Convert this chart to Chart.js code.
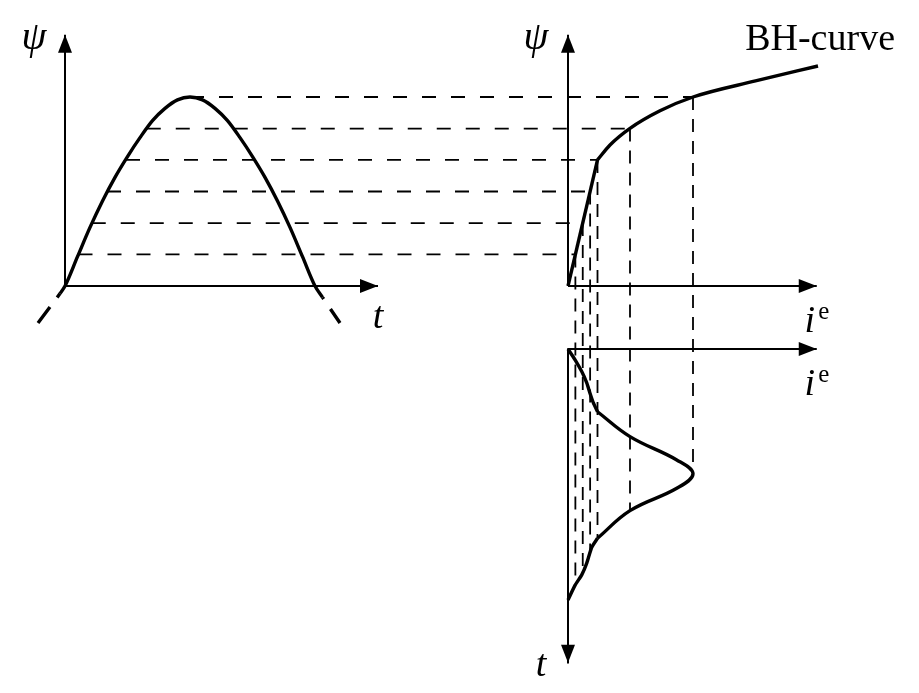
<!DOCTYPE html>
<html>
<head>
<meta charset="utf-8">
<script src="https://cdn.jsdelivr.net/npm/chart.js@4/dist/chart.umd.min.js"></script>
<style>
  html, body { margin: 0; padding: 0; background: #fff; }
  #wrap { width: 919px; height: 693px; position: relative; }
</style>
</head>
<body>
<div id="wrap"><canvas id="fig"></canvas></div>
<script>
// flux linkage over half a period (psi normalised to its peak, t to the half period)
const fluxTime = [-0.02, 0, 0.05, 0.1, 0.15, 0.2, 0.25, 0.3, 0.35, 0.4, 0.45, 0.5, 0.55, 0.6, 0.65, 0.7, 0.75, 0.8, 0.85, 0.9, 0.95, 1.0, 1.03];
const fluxPsi  = [-0.04, 0, 0.155, 0.31, 0.45, 0.575, 0.685, 0.785, 0.875, 0.94, 0.985, 1.0, 0.985, 0.94, 0.875, 0.785, 0.685, 0.575, 0.45, 0.31, 0.155, 0, -0.06];
// dashed continuation of the wave outside the half period
const fluxExtLeftT = [-0.108, -0.02];
const fluxExtLeftPsi = [-0.196, -0.04];
const fluxExtRightT = [1.1, 1.03];
const fluxExtRightPsi = [-0.196, -0.06];

// BH curve: linear part up to the knee, then saturation
const bhLinI = [0, 0.236];
const bhLinPsi = [0, 0.667];
const bhSatI = [0.236, 0.336, 0.496, 0.736, 1.0, 1.5, 2.0];
const bhSatPsi = [0.667, 0.746, 0.834, 0.927, 1.0, 1.085, 1.164];

// magnetising current over the same half period (t downwards)
const currRiseT = [0, 0.044, 0.09, 0.135, 0.176, 0.215, 0.25];
const currRiseI = [0, 0.058, 0.11, 0.15, 0.176, 0.203, 0.236];
const currPeakT = [0.25, 0.349, 0.442, 0.497, 0.555, 0.644, 0.754];
const currPeakI = [0.236, 0.496, 0.87, 1.0, 0.87, 0.496, 0.236];
const currFallT = [0.754, 0.79, 0.853, 0.9, 0.94, 1.0];
const currFallI = [0.236, 0.19, 0.15, 0.11, 0.058, 0];

// construction levels (dashed lines)
const psiLevels = [0.167, 0.333, 0.5, 0.667, 0.833, 1.0];
const levelTimes = [0.054, 0.107, 0.168, 0.244, 0.327, 0.5];
const levelCurrents = [0.059, 0.118, 0.177, 0.236, 0.496, 1.0];
const levelFallTimes = [0.94, 0.892, 0.81, 0.754, 0.644, 0.497];

// axis lengths in data units
const psiAxisLen = 1.33, tAxisLen = 1.252, iAxisLen = 1.99, tLowAxisLen = 1.25;

// layout of the three panels on the canvas
const W = 919, H = 693;
const leftX0 = 65, psiY0 = 286, tUnit = 250, psiUnit = 189;
const rightX0 = 568, iUnit = 125;
const lowY0 = 349, tLowUnit = 251;

const pts = (xs, ys) => xs.map((x, k) => ({ x: x, y: ys[k] }));
const line = (data, xId, yId, extra) => Object.assign({
  data: data, xAxisID: xId, yAxisID: yId, showLine: true,
  borderColor: '#000', borderWidth: 3.4, pointRadius: 0, tension: 0,
  borderCapStyle: 'butt', borderJoinStyle: 'round'
}, extra || {});

const datasets = [
  // axes
  line([{x: 0, y: 0}, {x: 0, y: psiAxisLen}], 'xT', 'yPsi', {borderWidth: 2}),
  line([{x: 0, y: 0}, {x: tAxisLen, y: 0}], 'xT', 'yPsi', {borderWidth: 2}),
  line([{x: 0, y: 0}, {x: 0, y: psiAxisLen}], 'xI', 'yPsi', {borderWidth: 2}),
  line([{x: 0, y: 0}, {x: iAxisLen, y: 0}], 'xI', 'yPsi', {borderWidth: 2}),
  line([{x: 0, y: 0}, {x: iAxisLen, y: 0}], 'xI', 'yT', {borderWidth: 2}),
  line([{x: 0, y: 0}, {x: 0, y: tLowAxisLen}], 'xI', 'yT', {borderWidth: 2}),
  // flux wave
  line(pts(fluxTime, fluxPsi), 'xT', 'yPsi', {cubicInterpolationMode: 'monotone'}),
  line(pts(fluxExtLeftT, fluxExtLeftPsi), 'xT', 'yPsi', {borderDash: [20, 12]}),
  line(pts(fluxExtRightT, fluxExtRightPsi), 'xT', 'yPsi', {borderDash: [17, 12]}),
  // BH curve
  line(pts(bhLinI, bhLinPsi), 'xI', 'yPsi'),
  line(pts(bhSatI, bhSatPsi), 'xI', 'yPsi', {cubicInterpolationMode: 'monotone'}),
  // current
  line(pts(currRiseI, currRiseT), 'xI', 'yT', {tension: 0.2}),
  line(pts(currPeakI, currPeakT), 'xI', 'yT', {tension: 0.4}),
  line(pts(currFallI, currFallT), 'xI', 'yT', {tension: 0.2})
];

function arrowHead(ctx, x, y, dx, dy) {
  const L = 18, hw = 7;
  ctx.beginPath();
  ctx.moveTo(x, y);
  ctx.lineTo(x - dx * L - dy * hw, y - dy * L + dx * hw);
  ctx.lineTo(x - dx * L + dy * hw, y - dy * L - dx * hw);
  ctx.closePath();
  ctx.fill();
}

const construction = {
  id: 'construction',
  beforeDatasetsDraw(chart) {
    const { ctx, scales } = chart;
    ctx.save();
    ctx.strokeStyle = '#000';
    ctx.lineWidth = 1.8;
    psiLevels.forEach((psi, k) => {
      const y = scales.yPsi.getPixelForValue(psi);
      const x = scales.xI.getPixelForValue(levelCurrents[k]);
      ctx.setLineDash([14, 15]);
      ctx.beginPath();
      ctx.moveTo(scales.xT.getPixelForValue(levelTimes[k]), y);
      ctx.lineTo(x, y);
      ctx.stroke();
      ctx.setLineDash([13, 9]);
      ctx.beginPath();
      ctx.moveTo(x, y);
      ctx.lineTo(x, scales.yT.getPixelForValue(levelFallTimes[k]));
      ctx.stroke();
    });
    ctx.restore();
  },
  afterDatasetsDraw(chart) {
    const { ctx, scales } = chart;
    const { xT, yPsi, xI, yT } = scales;
    ctx.save();
    ctx.fillStyle = '#000';
    arrowHead(ctx, xT.getPixelForValue(0), yPsi.getPixelForValue(psiAxisLen), 0, -1);
    arrowHead(ctx, xT.getPixelForValue(tAxisLen), yPsi.getPixelForValue(0), 1, 0);
    arrowHead(ctx, xI.getPixelForValue(0), yPsi.getPixelForValue(psiAxisLen), 0, -1);
    arrowHead(ctx, xI.getPixelForValue(iAxisLen), yPsi.getPixelForValue(0), 1, 0);
    arrowHead(ctx, xI.getPixelForValue(iAxisLen), yT.getPixelForValue(0), 1, 0);
    arrowHead(ctx, xI.getPixelForValue(0), yT.getPixelForValue(tLowAxisLen), 0, 1);

    // labels
    const math = 'italic 38px "Liberation Serif", "DejaVu Serif", serif';
    ctx.textAlign = 'center';
    ctx.textBaseline = 'middle';
    ctx.font = 'italic 40px "Liberation Serif", "DejaVu Serif", serif';
    ctx.fillText('ψ', xT.getPixelForValue(0) - 31, yPsi.getPixelForValue(psiAxisLen) + 4);
    ctx.fillText('ψ', xI.getPixelForValue(0) - 32, yPsi.getPixelForValue(psiAxisLen) + 4);
    ctx.font = math;
    ctx.fillText('t', xT.getPixelForValue(tAxisLen), yPsi.getPixelForValue(0) + 32);
    ctx.fillText('t', xI.getPixelForValue(0) - 27, yT.getPixelForValue(tLowAxisLen) + 3);
    [yPsi.getPixelForValue(0), yT.getPixelForValue(0)].forEach(y0 => {
      const xe = xI.getPixelForValue(iAxisLen);
      ctx.font = math;
      ctx.fillText('i', xe - 7, y0 + 36);
      ctx.font = '25px "Liberation Serif", "DejaVu Serif", serif';
      ctx.fillText('e', xe + 7, y0 + 26);
    });
    ctx.font = '38px "Liberation Serif", "DejaVu Serif", serif';
    ctx.textAlign = 'right';
    ctx.textBaseline = 'alphabetic';
    ctx.fillText('BH-curve', 895, 50);
    ctx.restore();
  }
};

new Chart(document.getElementById('fig'), {
  type: 'scatter',
  data: { datasets: datasets },
  options: {
    responsive: true,
    maintainAspectRatio: false,
    animation: false,
    layout: { padding: 0 },
    plugins: { legend: { display: false }, tooltip: { enabled: false } },
    scales: {
      xT: { axis: 'x', type: 'linear', display: false, min: -leftX0 / tUnit, max: (W - leftX0) / tUnit },
      yPsi: { axis: 'y', type: 'linear', display: false, min: -(H - psiY0) / psiUnit, max: psiY0 / psiUnit },
      xI: { axis: 'x', type: 'linear', display: false, min: -rightX0 / iUnit, max: (W - rightX0) / iUnit },
      yT: { axis: 'y', type: 'linear', display: false, reverse: true, min: -lowY0 / tLowUnit, max: (H - lowY0) / tLowUnit }
    }
  },
  plugins: [construction]
});
</script>
</body>
</html>
